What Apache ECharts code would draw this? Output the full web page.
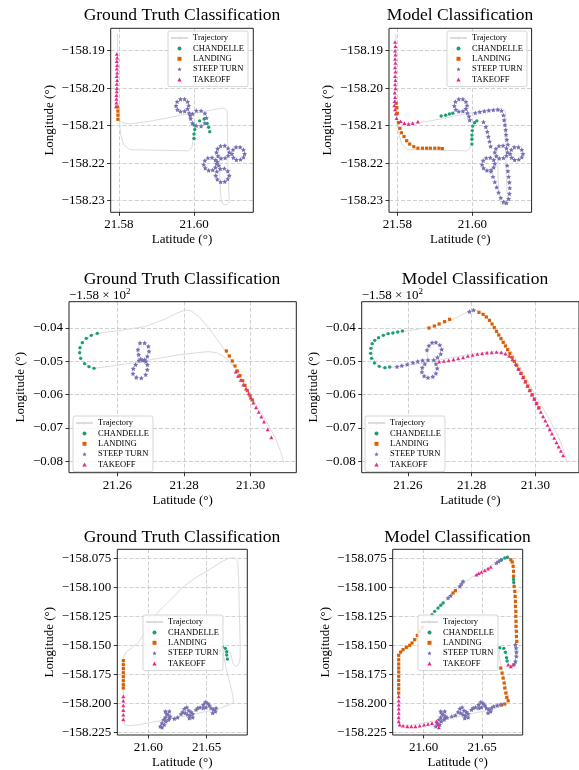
<!DOCTYPE html>
<html><head><meta charset="utf-8">
<script src="https://cdn.jsdelivr.net/npm/echarts@6/dist/echarts.min.js"></script>
<style>html,body{margin:0;padding:0;background:#fff}#c{width:579px;height:770px}</style>
</head><body><div id="c"></div>
<script>
// ---------------- DATA ----------------
const classNames = ['CHANDELLE', 'LANDING', 'STEEP TURN', 'TAKEOFF'];
const panelTitles = ['Ground Truth Classification', 'Model Classification'];

// Row 1
const r1XTicks = [21.58, 21.60];
const r1YTicks = [-158.23, -158.22, -158.21, -158.20, -158.19];
const r1XRange = [21.57779, 21.61581];
const r1YRange = [-158.23309, -158.18403];
const r1Trajectory = [
  [[21.5796,-158.1855],[21.5796,-158.1950],[21.5796,-158.2044],[21.5798,-158.2080],[21.5806,-158.2092],[21.5829,-158.2095],[21.5883,-158.2088],[21.5936,-158.2078],[21.5980,-158.2069],[21.6025,-158.2062],[21.6060,-158.2056],[21.6080,-158.2053],[21.6088,-158.2060],[21.6089,-158.2080],[21.6089,-158.2106],[21.6090,-158.2150],[21.6090,-158.2195],[21.6091,-158.2240],[21.6093,-158.2280],[21.6094,-158.2302],[21.6088,-158.2311],[21.6078,-158.2310],[21.6073,-158.2300],[21.6071,-158.2280],[21.6069,-158.2240],[21.6068,-158.2200],[21.6068,-158.2175]],
  [[21.5998,-158.2124],[21.5997,-158.2142],[21.5994,-158.2160],[21.5985,-158.2167],[21.5936,-158.2166],[21.5883,-158.2165],[21.5829,-158.2164],[21.5812,-158.2150],[21.5805,-158.2125],[21.5802,-158.2100],[21.5800,-158.2075]]
];
const r1GtChandelle = [[21.6000,-158.2098],[21.6002,-158.2110],[21.6000,-158.2122],[21.6000,-158.2134],[21.6015,-158.2087],[21.6027,-158.2082],[21.6035,-158.2094],[21.6039,-158.2104],[21.6042,-158.2116]];
const r1GtLanding = [[21.5796,-158.2050],[21.5797,-158.2061],[21.5797,-158.2072],[21.5797,-158.2083]];
const r1GtSteepTurn = [
  [21.5986,-158.2046],[21.5983,-158.2036],[21.5975,-158.2029],[21.5964,-158.2029],[21.5955,-158.2036],[21.5952,-158.2047],[21.5956,-158.2057],[21.5964,-158.2062],[21.5975,-158.2061],[21.5983,-158.2055],
  [21.5987,-158.2066],[21.5990,-158.2073],
  [21.6033,-158.2079],[21.6029,-158.2067],[21.6019,-158.2060],[21.6006,-158.2060],[21.5996,-158.2068],[21.5991,-158.2081],[21.5996,-158.2093],[21.6006,-158.2100],[21.6019,-158.2101],[21.6029,-158.2093],
  [21.6060,-158.2201],[21.6057,-158.2191],[21.6048,-158.2185],[21.6037,-158.2186],[21.6029,-158.2193],[21.6026,-158.2204],[21.6030,-158.2213],[21.6039,-158.2219],[21.6050,-158.2218],[21.6057,-158.2211],
  [21.6094,-158.2171],[21.6091,-158.2160],[21.6082,-158.2153],[21.6071,-158.2154],[21.6063,-158.2161],[21.6060,-158.2171],[21.6064,-158.2181],[21.6072,-158.2187],[21.6083,-158.2186],[21.6091,-158.2180],
  [21.6135,-158.2175],[21.6132,-158.2164],[21.6123,-158.2157],[21.6112,-158.2157],[21.6104,-158.2164],[21.6101,-158.2175],[21.6105,-158.2185],[21.6113,-158.2191],[21.6124,-158.2190],[21.6132,-158.2184],
  [21.6094,-158.2233],[21.6090,-158.2221],[21.6081,-158.2214],[21.6070,-158.2215],[21.6061,-158.2222],[21.6058,-158.2233],[21.6062,-158.2243],[21.6071,-158.2250],[21.6082,-158.2249],[21.6090,-158.2242],
  [21.6062,-158.2196],[21.6066,-158.2206]
];
const r1GtTakeoff = [[21.5794,-158.1909],[21.5795,-158.1919],[21.5794,-158.1928],[21.5795,-158.1939],[21.5794,-158.1948],[21.5795,-158.1959],[21.5794,-158.1968],[21.5795,-158.1979],[21.5794,-158.1989],[21.5794,-158.2000],[21.5794,-158.2009],[21.5793,-158.2019],[21.5793,-158.2029],[21.5793,-158.2039],[21.5792,-158.2049]];
const r1ModelChandelle = [[21.5917,-158.2074],[21.5929,-158.2072],[21.5939,-158.2069],[21.5948,-158.2067],[21.6001,-158.2101],[21.6000,-158.2113],[21.5999,-158.2125],[21.5999,-158.2136],[21.5999,-158.2149],[21.6006,-158.2092],[21.6012,-158.2087]];
const r1ModelLanding = [[21.5797,-158.2040],[21.5799,-158.2052],[21.5800,-158.2067],[21.5803,-158.2092],[21.5807,-158.2107],[21.5811,-158.2119],[21.5818,-158.2129],[21.5825,-158.2140],[21.5833,-158.2149],[21.5844,-158.2156],[21.5855,-158.2160],[21.5867,-158.2160],[21.5878,-158.2160],[21.5888,-158.2160],[21.5900,-158.2160],[21.5911,-158.2160],[21.5920,-158.2161]];
const r1ModelSteepTurn = [
  [21.5986,-158.2046],[21.5983,-158.2036],[21.5975,-158.2029],[21.5964,-158.2029],[21.5955,-158.2036],[21.5952,-158.2047],[21.5956,-158.2057],[21.5964,-158.2062],[21.5975,-158.2061],[21.5983,-158.2055],
  [21.5987,-158.2066],[21.5991,-158.2075],[21.5993,-158.2085],
  [21.6008,-158.2066],[21.6020,-158.2063],[21.6032,-158.2061],[21.6044,-158.2059],[21.6056,-158.2058],[21.6068,-158.2057],[21.6078,-158.2060],[21.6083,-158.2072],[21.6085,-158.2085],[21.6087,-158.2098],[21.6089,-158.2111],[21.6090,-158.2124],[21.6092,-158.2137],[21.6095,-158.2150],
  [21.6030,-158.2090],[21.6036,-158.2103],[21.6040,-158.2116],[21.6043,-158.2129],[21.6046,-158.2142],[21.6049,-158.2155],
  [21.6060,-158.2201],[21.6057,-158.2191],[21.6048,-158.2185],[21.6037,-158.2186],[21.6029,-158.2193],[21.6026,-158.2204],[21.6030,-158.2213],[21.6039,-158.2219],[21.6050,-158.2218],[21.6057,-158.2211],
  [21.6094,-158.2171],[21.6091,-158.2160],[21.6082,-158.2153],[21.6071,-158.2154],[21.6063,-158.2161],[21.6060,-158.2171],[21.6064,-158.2181],[21.6072,-158.2187],[21.6083,-158.2186],[21.6091,-158.2180],
  [21.6135,-158.2175],[21.6132,-158.2164],[21.6123,-158.2157],[21.6112,-158.2157],[21.6104,-158.2164],[21.6101,-158.2175],[21.6105,-158.2185],[21.6113,-158.2191],[21.6124,-158.2190],[21.6132,-158.2184],
  [21.6050,-158.2222],[21.6055,-158.2236],[21.6060,-158.2250],[21.6065,-158.2264],[21.6070,-158.2278],[21.6076,-158.2292],[21.6083,-158.2303],[21.6091,-158.2306],[21.6097,-158.2295],[21.6099,-158.2281],[21.6100,-158.2266],[21.6099,-158.2251],[21.6097,-158.2236],[21.6095,-158.2221],[21.6093,-158.2206]
];
const r1ModelTakeoff = [[21.5794,-158.1877],[21.5795,-158.1888],[21.5794,-158.1900],[21.5795,-158.1911],[21.5794,-158.1922],[21.5795,-158.1933],[21.5794,-158.1945],[21.5795,-158.1956],[21.5794,-158.1968],[21.5795,-158.1979],[21.5794,-158.1990],[21.5795,-158.2001],[21.5793,-158.2012],[21.5794,-158.2024],[21.5793,-158.2035],[21.5792,-158.2046],[21.5794,-158.2057],[21.5796,-158.2068],[21.5798,-158.2080],
  [21.5809,-158.2088],[21.5819,-158.2093],[21.5830,-158.2095],[21.5841,-158.2093],[21.5855,-158.2089]];

// Row 2
const r2XTicks = [21.26, 21.28, 21.30];
const r2YTicks = [-158.08, -158.07, -158.06, -158.05, -158.04];
const r2XRange = [21.24551, 21.31368];
const r2YRange = [-158.08341, -158.03211];
const r2Trajectory = [
  [[21.2540,-158.0416],[21.2602,-158.0408],[21.2682,-158.0396],[21.2742,-158.0374],[21.2782,-158.0354],[21.2804,-158.0346],[21.2822,-158.0349],[21.2847,-158.0368],[21.2872,-158.0398],[21.2897,-158.0431],[21.2922,-158.0466],[21.2952,-158.0516],[21.3002,-158.0606],[21.3042,-158.0671],[21.3072,-158.0726],[21.3090,-158.0770],[21.3100,-158.0805]],
  [[21.2540,-158.0416],[21.2522,-158.0422],[21.2507,-158.0431],[21.2495,-158.0444],[21.2488,-158.0459],[21.2487,-158.0474],[21.2490,-158.0491],[21.2502,-158.0507],[21.2515,-158.0516],[21.2530,-158.0521]],
  [[21.2530,-158.0521],[21.2582,-158.0514],[21.2652,-158.0504],[21.2712,-158.0493],[21.2782,-158.0481],[21.2842,-158.0474],[21.2872,-158.0471],[21.2897,-158.0474],[21.2917,-158.0484],[21.2932,-158.0496],[21.2947,-158.0514]],
  [[21.2663,-158.0496],[21.2660,-158.0470],[21.2668,-158.0450]]
];
const r2GtChandelle = [[21.2540,-158.0416],[21.2522,-158.0422],[21.2507,-158.0431],[21.2495,-158.0444],[21.2488,-158.0459],[21.2487,-158.0474],[21.2490,-158.0491],[21.2502,-158.0507],[21.2515,-158.0516],[21.2530,-158.0521]];
const r2GtLanding = [[21.2927,-158.0469],[21.2936,-158.0484],[21.2945,-158.0499],[21.2953,-158.0514],[21.2960,-158.0529],[21.2968,-158.0543],[21.2976,-158.0558],[21.2983,-158.0572],[21.2990,-158.0588],[21.2998,-158.0603],[21.3005,-158.0616]];
const r2GtSteepTurn = [[21.2668,-158.0445],[21.2682,-158.0445],[21.2693,-158.0455],[21.2695,-158.0470],[21.2690,-158.0485],[21.2682,-158.0495],[21.2670,-158.0493],[21.2664,-158.0480],[21.2662,-158.0465],
  [21.2676,-158.0497],[21.2685,-158.0500],[21.2665,-158.0498],
  [21.2655,-158.0510],[21.2648,-158.0522],[21.2647,-158.0537],[21.2657,-158.0548],[21.2672,-158.0550],[21.2685,-158.0540],[21.2690,-158.0525],[21.2690,-158.0510]];
const r2GtTakeoff = [[21.2955,-158.0531],[21.2962,-158.0544],[21.2970,-158.0556],[21.2978,-158.0570],[21.2986,-158.0582],[21.2994,-158.0596],[21.3000,-158.0609],[21.3008,-158.0624],[21.3016,-158.0638],[21.3024,-158.0652],[21.3032,-158.0666],[21.3040,-158.0681],[21.3051,-158.0704],[21.3062,-158.0728]];
const r2ModelChandelle = [[21.2583,-158.0409],[21.2568,-158.0412],[21.2553,-158.0415],[21.2538,-158.0417],[21.2523,-158.0422],[21.2508,-158.0429],[21.2496,-158.0437],[21.2488,-158.0447],[21.2484,-158.0461],[21.2483,-158.0476],[21.2486,-158.0491],[21.2495,-158.0505],[21.2510,-158.0515],[21.2528,-158.0519],[21.2543,-158.0517]];
const r2ModelLanding = [[21.2666,-158.0400],[21.2683,-158.0394],[21.2698,-158.0388],[21.2715,-158.0381],[21.2731,-158.0374],[21.2823,-158.0353],[21.2836,-158.0359],[21.2846,-158.0367],[21.2856,-158.0377],[21.2864,-158.0388],[21.2871,-158.0399],[21.2878,-158.0410],[21.2885,-158.0421],[21.2892,-158.0432],[21.2899,-158.0443],[21.2906,-158.0454],[21.2913,-158.0465],[21.2920,-158.0476],[21.2927,-158.0488],[21.2934,-158.0500],[21.2941,-158.0512],[21.2948,-158.0524],[21.2955,-158.0536],[21.2962,-158.0548],[21.2969,-158.0561],[21.2976,-158.0574],[21.2983,-158.0587],[21.2990,-158.0600],[21.2997,-158.0613],[21.3004,-158.0626],[21.3011,-158.0639]];
const r2ModelSteepTurn = [[21.2566,-158.0516],[21.2581,-158.0513],[21.2598,-158.0509],[21.2616,-158.0504],[21.2631,-158.0500],[21.2646,-158.0497],[21.2663,-158.0496],
  [21.2660,-158.0466],[21.2666,-158.0453],[21.2676,-158.0444],[21.2688,-158.0443],[21.2700,-158.0451],[21.2706,-158.0464],[21.2703,-158.0478],[21.2693,-158.0488],[21.2681,-158.0496],
  [21.2653,-158.0508],[21.2645,-158.0519],[21.2644,-158.0532],[21.2651,-158.0544],[21.2663,-158.0549],[21.2678,-158.0546],[21.2688,-158.0536],[21.2692,-158.0521],[21.2688,-158.0508],
  [21.2793,-158.0351],[21.2806,-158.0346]];
const r2ModelTakeoff = [[21.2698,-158.0501],[21.2713,-158.0499],[21.2728,-158.0497],[21.2743,-158.0494],[21.2758,-158.0491],[21.2773,-158.0488],[21.2788,-158.0484],[21.2803,-158.0481],[21.2818,-158.0478],[21.2833,-158.0476],[21.2848,-158.0474],[21.2863,-158.0473],[21.2878,-158.0472],[21.2893,-158.0473],[21.2906,-158.0477],[21.2918,-158.0484],[21.2928,-158.0494],
  [21.2938,-158.0508],[21.2946,-158.0522],[21.2954,-158.0535],[21.2961,-158.0548],[21.2968,-158.0561],[21.2975,-158.0574],[21.2982,-158.0587],[21.2989,-158.0600],[21.2996,-158.0613],[21.3003,-158.0626],[21.3010,-158.0639],[21.3017,-158.0652],[21.3024,-158.0665],[21.3031,-158.0678],[21.3038,-158.0691],[21.3045,-158.0704],[21.3052,-158.0717],[21.3059,-158.0730],[21.3066,-158.0743],[21.3073,-158.0756],[21.3080,-158.0769],[21.3087,-158.0782]];

// Row 3
const r3XTicks = [21.60, 21.65];
const r3YTicks = [-158.225, -158.200, -158.175, -158.150, -158.125, -158.100, -158.075];
const r3XRange = [21.57346, 21.68476];
const r3YRange = [-158.22697, -158.06693];
const r3Trajectory = [
  [[21.5794,-158.2181],[21.5786,-158.1951],[21.5786,-158.1606],[21.5809,-158.1555],[21.5866,-158.1514],[21.5923,-158.1463],[21.5966,-158.1391],[21.6037,-158.1262],[21.6123,-158.1170],[21.6223,-158.1075],[21.6294,-158.0997],[21.6409,-158.0911],[21.6523,-158.0845],[21.6623,-158.0779],[21.6694,-158.0744],[21.6737,-158.0744],[21.6766,-158.0773],[21.6774,-158.0945],[21.6780,-158.1233],[21.6786,-158.1463],[21.6786,-158.1606],[21.6774,-158.1664],[21.6746,-158.1678],[21.6723,-158.1649],[21.6709,-158.1578],[21.6680,-158.1534],[21.6651,-158.1534],[21.6643,-158.1578],[21.6666,-158.1693],[21.6694,-158.1807],[21.6723,-158.1922],[21.6729,-158.1986],[21.6694,-158.2009],[21.6580,-158.2052],[21.6437,-158.2080],[21.6294,-158.2109],[21.6151,-158.2138],[21.6037,-158.2158],[21.5923,-158.2181],[21.5823,-158.2190],[21.5794,-158.2181]]
];
const r3GtChandelle = [[21.6637,-158.1511],[21.6660,-158.1523],[21.6671,-158.1552],[21.6671,-158.1580],[21.6677,-158.1615],[21.6614,-158.1546]];
const r3GtLanding = [[21.5786,-158.1629],[21.5786,-158.1664],[21.5786,-158.1698],[21.5786,-158.1733],[21.5786,-158.1767],[21.5786,-158.1802],[21.5786,-158.1836],[21.5786,-158.1865]];
const r3GtSteepTurn = [[21.6103,-158.2195],[21.6117,-158.2167],[21.6131,-158.2138],[21.6146,-158.2118],[21.6166,-158.2095],[21.6180,-158.2066],[21.6146,-158.2066],[21.6157,-158.2086],[21.6186,-158.2109],[21.6174,-158.2138],[21.6137,-158.2181],[21.6117,-158.2204],[21.6151,-158.2152],[21.6180,-158.2124],
  [21.6223,-158.2129],[21.6251,-158.2118],
  [21.6294,-158.2072],[21.6309,-158.2043],[21.6329,-158.2032],[21.6346,-158.2060],[21.6366,-158.2072],[21.6380,-158.2086],[21.6357,-158.2103],[21.6337,-158.2095],[21.6317,-158.2080],[21.6351,-158.2124],[21.6380,-158.2118],[21.6280,-158.2089],
  [21.6409,-158.2052],[21.6423,-158.2037],[21.6443,-158.2032],
  [21.6471,-158.2009],[21.6489,-158.1986],[21.6509,-158.1997],[21.6523,-158.2014],[21.6494,-158.2032],[21.6471,-158.2037],[21.6537,-158.2037],[21.6557,-158.2049],[21.6574,-158.2066],[21.6551,-158.2080],[21.6580,-158.2037]];
const r3GtTakeoff = [[21.5786,-158.1937],[21.5786,-158.1974],[21.5786,-158.2014],[21.5786,-158.2055],[21.5786,-158.2095],[21.5786,-158.2135]];
const r3ModelChandelle = [[21.6651,-158.1517],[21.6686,-158.1523],[21.6700,-158.1557],[21.6709,-158.1603],[21.6714,-158.1632],
  [21.6071,-158.1233],[21.6094,-158.1204],[21.6123,-158.1175],[21.6146,-158.1152],[21.6166,-158.1132],
  [21.6666,-158.0759],[21.6694,-158.0744],[21.6717,-158.0738],[21.6769,-158.0930],[21.6771,-158.0955]];
const r3ModelLanding = [[21.5803,-158.1555],[21.5786,-158.1583],[21.5786,-158.1621],[21.5786,-158.1658],[21.5786,-158.1693],[21.5786,-158.1727],[21.5786,-158.1764],[21.5786,-158.1799],[21.5786,-158.1836],[21.5786,-158.1871],[21.5786,-158.1908],
  [21.5823,-158.1534],[21.5851,-158.1514],[21.5880,-158.1497],[21.5900,-158.1477],[21.5923,-158.1448],[21.5946,-158.1411],[21.5966,-158.1376],[21.5986,-158.1342],
  [21.6251,-158.1046],[21.6271,-158.1026],
  [21.6746,-158.0759],[21.6757,-158.0779],[21.6766,-158.0816],[21.6769,-158.0859],[21.6769,-158.0902],[21.6774,-158.0989],[21.6780,-158.1032],[21.6783,-158.1075],[21.6786,-158.1118],[21.6786,-158.1161],[21.6789,-158.1204],[21.6789,-158.1247],[21.6791,-158.1290],[21.6791,-158.1333],[21.6794,-158.1376],[21.6794,-158.1420],[21.6797,-158.1463],
  [21.6660,-158.1693],[21.6671,-158.1736],[21.6680,-158.1779],[21.6689,-158.1822],[21.6694,-158.1865],[21.6703,-158.1908],[21.6711,-158.1945],[21.6723,-158.1974],[21.6694,-158.2003],[21.6666,-158.2011]];
const r3ModelSteepTurn = [[21.6209,-158.1089],[21.6231,-158.1069],[21.6309,-158.0989],[21.6323,-158.0968],[21.6337,-158.0945],[21.6623,-158.0787],[21.6643,-158.0773],[21.6660,-158.0761],
  [21.6786,-158.1491],[21.6791,-158.1520],[21.6794,-158.1555],[21.6793,-158.1592],[21.6786,-158.1635],[21.6775,-158.1658],
  [21.6103,-158.2195],[21.6117,-158.2167],[21.6131,-158.2138],[21.6146,-158.2118],[21.6166,-158.2095],[21.6180,-158.2066],[21.6146,-158.2066],[21.6157,-158.2086],[21.6186,-158.2109],[21.6174,-158.2138],[21.6137,-158.2181],[21.6151,-158.2152],[21.6180,-158.2124],
  [21.6200,-158.2120],[21.6240,-158.2110],[21.6270,-158.2100],
  [21.6294,-158.2072],[21.6309,-158.2043],[21.6329,-158.2032],[21.6346,-158.2060],[21.6366,-158.2072],[21.6380,-158.2086],[21.6357,-158.2103],[21.6337,-158.2095],[21.6317,-158.2080],[21.6351,-158.2124],[21.6380,-158.2118],
  [21.6409,-158.2052],[21.6423,-158.2037],[21.6443,-158.2032],
  [21.6471,-158.2009],[21.6489,-158.1986],[21.6509,-158.1997],[21.6523,-158.2014],[21.6494,-158.2032],[21.6471,-158.2037],[21.6537,-158.2037],[21.6557,-158.2049],[21.6574,-158.2066],[21.6551,-158.2080],[21.6580,-158.2037],
  [21.6600,-158.2022],[21.6630,-158.2014],[21.6660,-158.2006]];
const r3ModelTakeoff = [[21.5786,-158.1937],[21.5786,-158.1974],[21.5786,-158.2009],[21.5786,-158.2043],[21.5786,-158.2080],[21.5786,-158.2118],[21.5786,-158.2152],[21.5794,-158.2181],
  [21.5823,-158.2190],[21.5860,-158.2195],[21.5894,-158.2195],[21.5929,-158.2195],[21.5966,-158.2190],[21.6003,-158.2181],[21.6037,-158.2175],[21.6071,-158.2167],[21.6109,-158.2152],[21.6123,-158.2181],[21.6130,-158.2205],
  [21.6451,-158.0888],[21.6471,-158.0876],[21.6494,-158.0865],[21.6523,-158.0851],[21.6551,-158.0836],[21.6574,-158.0822],
  [21.6723,-158.1664],[21.6746,-158.1678],[21.6766,-158.1664]];

// ---------------- CHART ----------------
const FONT = 'Liberation Serif';
const STAR = 'path://M0,-10L2.9,-4L9.5,-3.1L4.7,1.5L5.9,8.1L0,5L-5.9,8.1L-4.7,1.5L-9.5,-3.1L-2.9,-4Z';
const SQUARE = 'path://M0,0H10V10H0Z';
const TRIANGLE = 'path://M5,0L10,9L0,9Z';
const CLASS_STYLE = [
  {color: '#1b9e77', symbol: 'circle', size: 3.4},
  {color: '#d95f02', symbol: SQUARE, size: 3.2},
  {color: '#7570b3', symbol: STAR, size: 5},
  {color: '#e7298a', symbol: TRIANGLE, size: 4}
];
const minus = s => s.replace('-', '\u2212');

const panels = [
  {grid: {left: 110.7, top: 28.3, width: 142.6, height: 184}, xr: r1XRange, yr: r1YRange, xt: r1XTicks, yt: r1YTicks,
   xf: v => v.toFixed(2), yf: v => minus(v.toFixed(2)), yGap: 55, traj: r1Trajectory,
   pts: [r1GtChandelle, r1GtLanding, r1GtSteepTurn, r1GtTakeoff], legend: [168, 31], title: [182, 15.5, 0]},
  {grid: {left: 389, top: 28.3, width: 142.6, height: 184}, xr: r1XRange, yr: r1YRange, xt: r1XTicks, yt: r1YTicks,
   xf: v => v.toFixed(2), yf: v => minus(v.toFixed(2)), yGap: 55, traj: r1Trajectory,
   pts: [r1ModelChandelle, r1ModelLanding, r1ModelSteepTurn, r1ModelTakeoff], legend: [447, 31], title: [460, 15.5, 1]},
  {grid: {left: 69, top: 301.7, width: 227.3, height: 171}, xr: r2XRange, yr: r2YRange, xt: r2XTicks, yt: r2YTicks,
   xf: v => v.toFixed(2), yf: v => minus((v + 158).toFixed(2)), yGap: 42, traj: r2Trajectory,
   pts: [r2GtChandelle, r2GtLanding, r2GtSteepTurn, r2GtTakeoff], legend: [73, 416], title: [182, 279.5, 0], offset: true},
  {grid: {left: 361.7, top: 301.7, width: 227.3, height: 171}, xr: r2XRange, yr: r2YRange, xt: r2XTicks, yt: r2YTicks,
   xf: v => v.toFixed(2), yf: v => minus((v + 158).toFixed(2)), yGap: 42, traj: r2Trajectory,
   pts: [r2ModelChandelle, r2ModelLanding, r2ModelSteepTurn, r2ModelTakeoff], legend: [365, 416], title: [475, 279.5, 1], offset: true},
  {grid: {left: 117.3, top: 549.3, width: 130, height: 186}, xr: r3XRange, yr: r3YRange, xt: r3XTicks, yt: r3YTicks,
   xf: v => v.toFixed(2), yf: v => minus(v.toFixed(3)), yGap: 61, traj: r3Trajectory,
   pts: [r3GtChandelle, r3GtLanding, r3GtSteepTurn, r3GtTakeoff], legend: [143, 615], title: [182, 537, 0]},
  {grid: {left: 392.7, top: 549.3, width: 130, height: 186}, xr: r3XRange, yr: r3YRange, xt: r3XTicks, yt: r3YTicks,
   xf: v => v.toFixed(2), yf: v => minus(v.toFixed(3)), yGap: 61, traj: r3Trajectory,
   pts: [r3ModelChandelle, r3ModelLanding, r3ModelSteepTurn, r3ModelTakeoff], legend: [418, 615], title: [457.5, 537, 1]}
];

const grids = [], xAxes = [], yAxes = [], series = [], legends = [], graphics = [];
const labelStyle = {fontFamily: FONT, fontSize: 13, color: '#000'};
const splitStyle = {color: '#c4c4c4', width: 0.8, type: [4, 2]};
const tickStyle = {color: '#000', width: 0.8};

panels.forEach((p, i) => {
  grids.push(Object.assign({show: true, borderColor: '#222', borderWidth: 1, backgroundColor: 'transparent', z: 3}, p.grid));
  xAxes.push({type: 'value', gridIndex: i, min: p.xr[0], max: p.xr[1],
    axisLine: {show: false},
    axisTick: {show: true, length: 3.5, lineStyle: tickStyle, customValues: p.xt},
    axisLabel: Object.assign({customValues: p.xt, formatter: p.xf, margin: 6}, labelStyle),
    splitLine: {show: true, lineStyle: splitStyle},
    name: 'Latitude (°)', nameLocation: 'middle', nameGap: 21, nameTextStyle: labelStyle});
  yAxes.push({type: 'value', gridIndex: i, min: p.yr[0], max: p.yr[1],
    axisLine: {show: false},
    axisTick: {show: true, length: 3.5, lineStyle: tickStyle, customValues: p.yt},
    axisLabel: Object.assign({customValues: p.yt, formatter: p.yf, margin: 6}, labelStyle),
    splitLine: {show: true, lineStyle: splitStyle},
    name: 'Longitude (°)', nameLocation: 'middle', nameGap: p.yGap, nameTextStyle: labelStyle});
  p.traj.forEach(seg => series.push({type: 'line', name: 'Trajectory', xAxisIndex: i, yAxisIndex: i, data: seg,
    symbol: 'none', silent: true, lineStyle: {color: '#dcdcdc', width: 1}, itemStyle: {color: '#dcdcdc'}, z: 1}));
  p.pts.forEach((d, k) => series.push({type: 'scatter', name: classNames[k], xAxisIndex: i, yAxisIndex: i, data: d,
    symbol: CLASS_STYLE[k].symbol, symbolSize: CLASS_STYLE[k].size, symbolKeepAspect: true, silent: true,
    itemStyle: {color: CLASS_STYLE[k].color, opacity: 1}, z: 2 + k * 0.01}));
  legends.push({orient: 'vertical', left: p.legend[0], top: p.legend[1], padding: [2, 4, 2, 2],
    itemWidth: 17, itemHeight: 4, itemGap: 0.4, selectedMode: false, symbolKeepAspect: true,
    data: [{name: 'Trajectory'}].concat(classNames.map((n, k) => ({name: n, icon: CLASS_STYLE[k].symbol}))),
    textStyle: {fontFamily: FONT, fontSize: 8.5, lineHeight: 10, color: '#000'},
    backgroundColor: 'rgba(255,255,255,0.85)', borderColor: '#cccccc', borderWidth: 0.8, borderRadius: 2});
  graphics.push({type: 'text', x: p.title[0], y: p.title[1], z: 10,
    style: {text: panelTitles[p.title[2]], font: '17.5px "Liberation Serif"', fill: '#000', textAlign: 'center', textVerticalAlign: 'middle'}});
  if (p.offset) {
    graphics.push({type: 'text', x: p.grid.left, y: 295.5, z: 10,
      style: {text: '{a|\u22121.58 \u00d7 10}{s|2}', textVerticalAlign: 'middle', fill: '#000',
        rich: {a: {fontFamily: FONT, fontSize: 13, lineHeight: 16}, s: {fontFamily: FONT, fontSize: 9, lineHeight: 16, verticalAlign: 'top'}}}});
  }
});

const chart = echarts.init(document.getElementById('c'), null, {renderer: 'canvas'});
chart.setOption({animation: false, backgroundColor: '#fff', grid: grids, xAxis: xAxes, yAxis: yAxes,
  series: series, legend: legends, graphic: {elements: graphics}});
</script></body></html>
